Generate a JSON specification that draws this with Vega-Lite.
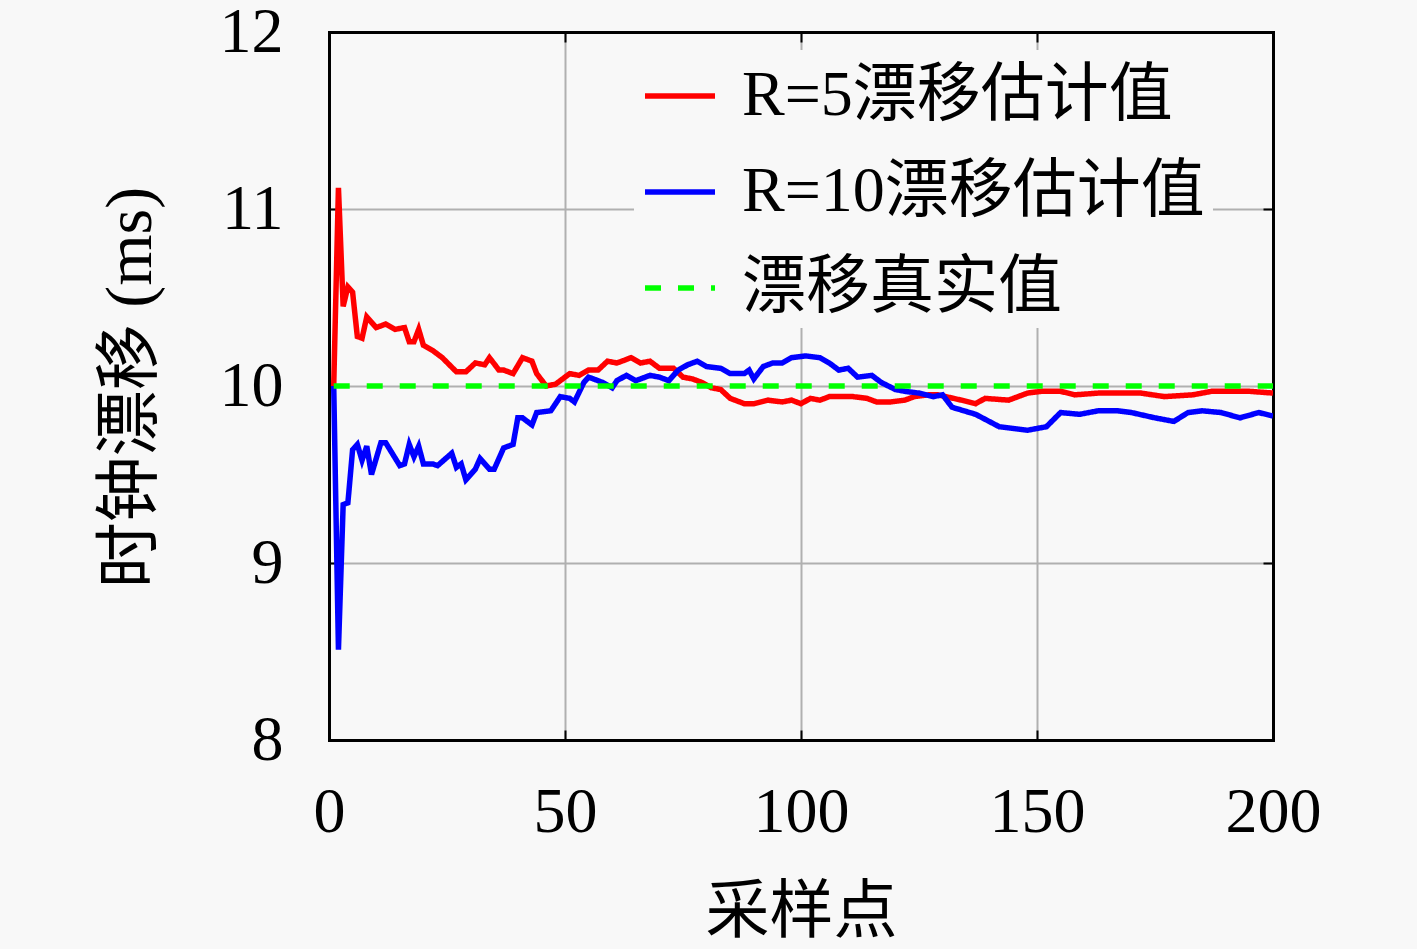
{
  "$schema": "https://vega.github.io/schema/vega-lite/v6.json",
  "width": 944,
  "height": 708,
  "autosize": {"type": "none"},
  "padding": {"left": 329, "top": 32, "right": 144, "bottom": 209},
  "background": "#f8f8f8",
  "config": {
    "view": {"stroke": null},
    "font": "Liberation Serif, Noto Sans CJK SC",
    "axis": {
      "domain": true,
      "domainColor": "black",
      "domainWidth": 3,
      "domainCap": "square",
      "labelFont": "Liberation Serif",
      "labelFontSize": 64,
      "labelColor": "black",
      "labelFlush": false,
      "labelOverlap": false,
      "tickColor": "black",
      "tickWidth": 2,
      "tickSize": -10,
      "gridColor": "#b0b0b0",
      "gridWidth": 2,
      "titleFont": "Liberation Serif, Noto Sans CJK SC",
      "titleFontSize": 64,
      "titleFontWeight": "normal",
      "titleColor": "black"
    }
  },
  "data": {
    "values": [
      {"x": 1, "y": 10.0, "s": "R=5漂移估计值"},
      {"x": 2, "y": 11.12, "s": "R=5漂移估计值"},
      {"x": 3, "y": 10.45, "s": "R=5漂移估计值"},
      {"x": 4, "y": 10.56, "s": "R=5漂移估计值"},
      {"x": 5, "y": 10.53, "s": "R=5漂移估计值"},
      {"x": 6, "y": 10.28, "s": "R=5漂移估计值"},
      {"x": 7, "y": 10.27, "s": "R=5漂移估计值"},
      {"x": 8, "y": 10.39, "s": "R=5漂移估计值"},
      {"x": 10, "y": 10.33, "s": "R=5漂移估计值"},
      {"x": 12, "y": 10.35, "s": "R=5漂移估计值"},
      {"x": 14, "y": 10.32, "s": "R=5漂移估计值"},
      {"x": 16, "y": 10.33, "s": "R=5漂移估计值"},
      {"x": 17, "y": 10.25, "s": "R=5漂移估计值"},
      {"x": 18, "y": 10.25, "s": "R=5漂移估计值"},
      {"x": 19, "y": 10.32, "s": "R=5漂移估计值"},
      {"x": 20, "y": 10.23, "s": "R=5漂移估计值"},
      {"x": 22, "y": 10.2, "s": "R=5漂移估计值"},
      {"x": 24, "y": 10.16, "s": "R=5漂移估计值"},
      {"x": 27, "y": 10.08, "s": "R=5漂移估计值"},
      {"x": 29, "y": 10.08, "s": "R=5漂移估计值"},
      {"x": 31, "y": 10.13, "s": "R=5漂移估计值"},
      {"x": 33, "y": 10.12, "s": "R=5漂移估计值"},
      {"x": 34, "y": 10.16, "s": "R=5漂移估计值"},
      {"x": 36, "y": 10.09, "s": "R=5漂移估计值"},
      {"x": 37, "y": 10.09, "s": "R=5漂移估计值"},
      {"x": 39, "y": 10.07, "s": "R=5漂移估计值"},
      {"x": 41, "y": 10.16, "s": "R=5漂移估计值"},
      {"x": 43, "y": 10.14, "s": "R=5漂移估计值"},
      {"x": 44, "y": 10.07, "s": "R=5漂移估计值"},
      {"x": 46, "y": 10.0, "s": "R=5漂移估计值"},
      {"x": 48, "y": 10.01, "s": "R=5漂移估计值"},
      {"x": 51, "y": 10.07, "s": "R=5漂移估计值"},
      {"x": 53, "y": 10.06, "s": "R=5漂移估计值"},
      {"x": 55, "y": 10.09, "s": "R=5漂移估计值"},
      {"x": 57, "y": 10.09, "s": "R=5漂移估计值"},
      {"x": 59, "y": 10.14, "s": "R=5漂移估计值"},
      {"x": 61, "y": 10.13, "s": "R=5漂移估计值"},
      {"x": 62, "y": 10.14, "s": "R=5漂移估计值"},
      {"x": 64, "y": 10.16, "s": "R=5漂移估计值"},
      {"x": 66, "y": 10.13, "s": "R=5漂移估计值"},
      {"x": 68, "y": 10.14, "s": "R=5漂移估计值"},
      {"x": 70, "y": 10.1, "s": "R=5漂移估计值"},
      {"x": 72, "y": 10.1, "s": "R=5漂移估计值"},
      {"x": 73, "y": 10.1, "s": "R=5漂移估计值"},
      {"x": 75, "y": 10.05, "s": "R=5漂移估计值"},
      {"x": 77, "y": 10.04, "s": "R=5漂移估计值"},
      {"x": 79, "y": 10.02, "s": "R=5漂移估计值"},
      {"x": 81, "y": 9.99, "s": "R=5漂移估计值"},
      {"x": 83, "y": 9.98, "s": "R=5漂移估计值"},
      {"x": 85, "y": 9.93, "s": "R=5漂移估计值"},
      {"x": 88, "y": 9.9, "s": "R=5漂移估计值"},
      {"x": 90, "y": 9.9, "s": "R=5漂移估计值"},
      {"x": 93, "y": 9.92, "s": "R=5漂移估计值"},
      {"x": 96, "y": 9.91, "s": "R=5漂移估计值"},
      {"x": 98, "y": 9.92, "s": "R=5漂移估计值"},
      {"x": 100, "y": 9.9, "s": "R=5漂移估计值"},
      {"x": 102, "y": 9.93, "s": "R=5漂移估计值"},
      {"x": 104, "y": 9.92, "s": "R=5漂移估计值"},
      {"x": 106, "y": 9.94, "s": "R=5漂移估计值"},
      {"x": 109, "y": 9.94, "s": "R=5漂移估计值"},
      {"x": 111, "y": 9.94, "s": "R=5漂移估计值"},
      {"x": 114, "y": 9.93, "s": "R=5漂移估计值"},
      {"x": 116, "y": 9.91, "s": "R=5漂移估计值"},
      {"x": 119, "y": 9.91, "s": "R=5漂移估计值"},
      {"x": 122, "y": 9.92, "s": "R=5漂移估计值"},
      {"x": 124, "y": 9.94, "s": "R=5漂移估计值"},
      {"x": 127, "y": 9.95, "s": "R=5漂移估计值"},
      {"x": 129, "y": 9.95, "s": "R=5漂移估计值"},
      {"x": 134, "y": 9.92, "s": "R=5漂移估计值"},
      {"x": 137, "y": 9.9, "s": "R=5漂移估计值"},
      {"x": 139, "y": 9.93, "s": "R=5漂移估计值"},
      {"x": 144, "y": 9.92, "s": "R=5漂移估计值"},
      {"x": 148, "y": 9.96, "s": "R=5漂移估计值"},
      {"x": 151, "y": 9.97, "s": "R=5漂移估计值"},
      {"x": 155, "y": 9.97, "s": "R=5漂移估计值"},
      {"x": 158, "y": 9.95, "s": "R=5漂移估计值"},
      {"x": 163, "y": 9.96, "s": "R=5漂移估计值"},
      {"x": 169, "y": 9.96, "s": "R=5漂移估计值"},
      {"x": 172, "y": 9.96, "s": "R=5漂移估计值"},
      {"x": 177, "y": 9.94, "s": "R=5漂移估计值"},
      {"x": 183, "y": 9.95, "s": "R=5漂移估计值"},
      {"x": 187, "y": 9.97, "s": "R=5漂移估计值"},
      {"x": 191, "y": 9.97, "s": "R=5漂移估计值"},
      {"x": 195, "y": 9.97, "s": "R=5漂移估计值"},
      {"x": 200, "y": 9.96, "s": "R=5漂移估计值"},
      {"x": 1, "y": 10.0, "s": "R=10漂移估计值"},
      {"x": 2, "y": 8.51, "s": "R=10漂移估计值"},
      {"x": 3, "y": 9.33, "s": "R=10漂移估计值"},
      {"x": 4, "y": 9.34, "s": "R=10漂移估计值"},
      {"x": 5, "y": 9.64, "s": "R=10漂移估计值"},
      {"x": 6, "y": 9.67, "s": "R=10漂移估计值"},
      {"x": 7, "y": 9.58, "s": "R=10漂移估计值"},
      {"x": 8, "y": 9.66, "s": "R=10漂移估计值"},
      {"x": 9, "y": 9.5, "s": "R=10漂移估计值"},
      {"x": 11, "y": 9.68, "s": "R=10漂移估计值"},
      {"x": 12, "y": 9.68, "s": "R=10漂移估计值"},
      {"x": 15, "y": 9.55, "s": "R=10漂移估计值"},
      {"x": 16, "y": 9.56, "s": "R=10漂移估计值"},
      {"x": 17, "y": 9.67, "s": "R=10漂移估计值"},
      {"x": 18, "y": 9.6, "s": "R=10漂移估计值"},
      {"x": 19, "y": 9.66, "s": "R=10漂移估计值"},
      {"x": 20, "y": 9.56, "s": "R=10漂移估计值"},
      {"x": 22, "y": 9.56, "s": "R=10漂移估计值"},
      {"x": 23, "y": 9.55, "s": "R=10漂移估计值"},
      {"x": 26, "y": 9.62, "s": "R=10漂移估计值"},
      {"x": 27, "y": 9.54, "s": "R=10漂移估计值"},
      {"x": 28, "y": 9.56, "s": "R=10漂移估计值"},
      {"x": 29, "y": 9.47, "s": "R=10漂移估计值"},
      {"x": 31, "y": 9.53, "s": "R=10漂移估计值"},
      {"x": 32, "y": 9.59, "s": "R=10漂移估计值"},
      {"x": 34, "y": 9.53, "s": "R=10漂移估计值"},
      {"x": 35, "y": 9.53, "s": "R=10漂移估计值"},
      {"x": 37, "y": 9.65, "s": "R=10漂移估计值"},
      {"x": 39, "y": 9.67, "s": "R=10漂移估计值"},
      {"x": 40, "y": 9.82, "s": "R=10漂移估计值"},
      {"x": 41, "y": 9.82, "s": "R=10漂移估计值"},
      {"x": 43, "y": 9.78, "s": "R=10漂移估计值"},
      {"x": 44, "y": 9.85, "s": "R=10漂移估计值"},
      {"x": 47, "y": 9.86, "s": "R=10漂移估计值"},
      {"x": 49, "y": 9.94, "s": "R=10漂移估计值"},
      {"x": 51, "y": 9.93, "s": "R=10漂移估计值"},
      {"x": 52, "y": 9.91, "s": "R=10漂移估计值"},
      {"x": 54, "y": 10.02, "s": "R=10漂移估计值"},
      {"x": 55, "y": 10.05, "s": "R=10漂移估计值"},
      {"x": 58, "y": 10.02, "s": "R=10漂移估计值"},
      {"x": 60, "y": 9.99, "s": "R=10漂移估计值"},
      {"x": 61, "y": 10.03, "s": "R=10漂移估计值"},
      {"x": 63, "y": 10.06, "s": "R=10漂移估计值"},
      {"x": 65, "y": 10.03, "s": "R=10漂移估计值"},
      {"x": 68, "y": 10.06, "s": "R=10漂移估计值"},
      {"x": 70, "y": 10.05, "s": "R=10漂移估计值"},
      {"x": 72, "y": 10.03, "s": "R=10漂移估计值"},
      {"x": 74, "y": 10.09, "s": "R=10漂移估计值"},
      {"x": 76, "y": 10.12, "s": "R=10漂移估计值"},
      {"x": 78, "y": 10.14, "s": "R=10漂移估计值"},
      {"x": 80, "y": 10.11, "s": "R=10漂移估计值"},
      {"x": 83, "y": 10.1, "s": "R=10漂移估计值"},
      {"x": 85, "y": 10.07, "s": "R=10漂移估计值"},
      {"x": 88, "y": 10.07, "s": "R=10漂移估计值"},
      {"x": 89, "y": 10.09, "s": "R=10漂移估计值"},
      {"x": 90, "y": 10.04, "s": "R=10漂移估计值"},
      {"x": 92, "y": 10.11, "s": "R=10漂移估计值"},
      {"x": 94, "y": 10.13, "s": "R=10漂移估计值"},
      {"x": 96, "y": 10.13, "s": "R=10漂移估计值"},
      {"x": 98, "y": 10.16, "s": "R=10漂移估计值"},
      {"x": 101, "y": 10.17, "s": "R=10漂移估计值"},
      {"x": 104, "y": 10.16, "s": "R=10漂移估计值"},
      {"x": 106, "y": 10.13, "s": "R=10漂移估计值"},
      {"x": 108, "y": 10.09, "s": "R=10漂移估计值"},
      {"x": 110, "y": 10.1, "s": "R=10漂移估计值"},
      {"x": 112, "y": 10.05, "s": "R=10漂移估计值"},
      {"x": 115, "y": 10.06, "s": "R=10漂移估计值"},
      {"x": 117, "y": 10.02, "s": "R=10漂移估计值"},
      {"x": 120, "y": 9.98, "s": "R=10漂移估计值"},
      {"x": 122, "y": 9.97, "s": "R=10漂移估计值"},
      {"x": 125, "y": 9.96, "s": "R=10漂移估计值"},
      {"x": 128, "y": 9.94, "s": "R=10漂移估计值"},
      {"x": 130, "y": 9.95, "s": "R=10漂移估计值"},
      {"x": 132, "y": 9.88, "s": "R=10漂移估计值"},
      {"x": 137, "y": 9.84, "s": "R=10漂移估计值"},
      {"x": 142, "y": 9.77, "s": "R=10漂移估计值"},
      {"x": 145, "y": 9.76, "s": "R=10漂移估计值"},
      {"x": 148, "y": 9.75, "s": "R=10漂移估计值"},
      {"x": 152, "y": 9.77, "s": "R=10漂移估计值"},
      {"x": 155, "y": 9.85, "s": "R=10漂移估计值"},
      {"x": 159, "y": 9.84, "s": "R=10漂移估计值"},
      {"x": 163, "y": 9.86, "s": "R=10漂移估计值"},
      {"x": 167, "y": 9.86, "s": "R=10漂移估计值"},
      {"x": 170, "y": 9.85, "s": "R=10漂移估计值"},
      {"x": 175, "y": 9.82, "s": "R=10漂移估计值"},
      {"x": 179, "y": 9.8, "s": "R=10漂移估计值"},
      {"x": 182, "y": 9.85, "s": "R=10漂移估计值"},
      {"x": 185, "y": 9.86, "s": "R=10漂移估计值"},
      {"x": 189, "y": 9.85, "s": "R=10漂移估计值"},
      {"x": 193, "y": 9.82, "s": "R=10漂移估计值"},
      {"x": 197, "y": 9.85, "s": "R=10漂移估计值"},
      {"x": 200, "y": 9.83, "s": "R=10漂移估计值"},
      {"x": 1, "y": 10.0, "s": "漂移真实值"},
      {"x": 200, "y": 10.0, "s": "漂移真实值"}
    ]
  },
  "layer": [
    {
      "mark": {"type": "line", "strokeWidth": 5.5, "clip": true},
      "encoding": {
        "x": {
          "field": "x",
          "type": "quantitative",
          "scale": {"domain": [0, 200], "nice": false},
          "axis": {
            "orient": "bottom",
            "values": [0, 50, 100, 150, 200],
            "labelPadding": 50,
            "title": "采样点",
            "titleX": 472,
            "titleY": 172,
            "titleBaseline": "middle",
            "titleAlign": "center"
          }
        },
        "y": {
          "field": "y",
          "type": "quantitative",
          "scale": {"domain": [8, 12], "nice": false, "zero": false},
          "axis": {
            "orient": "left",
            "values": [8, 9, 10, 11, 12],
            "labelPadding": 56,
            "title": "时钟漂移 (ms)",
            "titleFontSize": 66,
            "titleAngle": -90,
            "titleX": -199,
            "titleY": 355,
            "titleBaseline": "middle",
            "titleAlign": "center"
          }
        },
        "color": {
          "field": "s",
          "type": "nominal",
          "scale": {
            "domain": ["R=5漂移估计值", "R=10漂移估计值", "漂移真实值"],
            "range": ["#ff0000", "#0000ff", "#00ff00"]
          },
          "legend": {
            "title": null,
            "orient": "none",
            "legendX": 305,
            "legendY": 18,
            "fillColor": "#f8f8f8",
            "padding": 8,
            "symbolType": "stroke",
            "symbolSize": 4900,
            "symbolStrokeWidth": 5.5,
            "labelFont": "Liberation Serif, Noto Sans CJK SC",
            "labelFontSize": 64,
            "labelColor": "black",
            "labelOffset": 24,
            "rowPadding": 26,
            "labelLimit": 700
          }
        },
        "strokeDash": {
          "field": "s",
          "type": "nominal",
          "scale": {
            "domain": ["R=5漂移估计值", "R=10漂移估计值", "漂移真实值"],
            "range": [[1, 0], [1, 0], [16, 17]]
          },
          "legend": null
        }
      }
    },
    {
      "mark": {"type": "point", "opacity": 0},
      "encoding": {
        "x": {
          "field": "x",
          "type": "quantitative",
          "axis": {"orient": "top", "values": [0, 50, 100, 150, 200], "labels": false, "grid": false, "title": null}
        },
        "y": {
          "field": "y",
          "type": "quantitative",
          "axis": {"orient": "right", "values": [8, 9, 10, 11, 12], "labels": false, "grid": false, "title": null}
        }
      }
    }
  ],
  "resolve": {"axis": {"x": "independent", "y": "independent"}}
}
